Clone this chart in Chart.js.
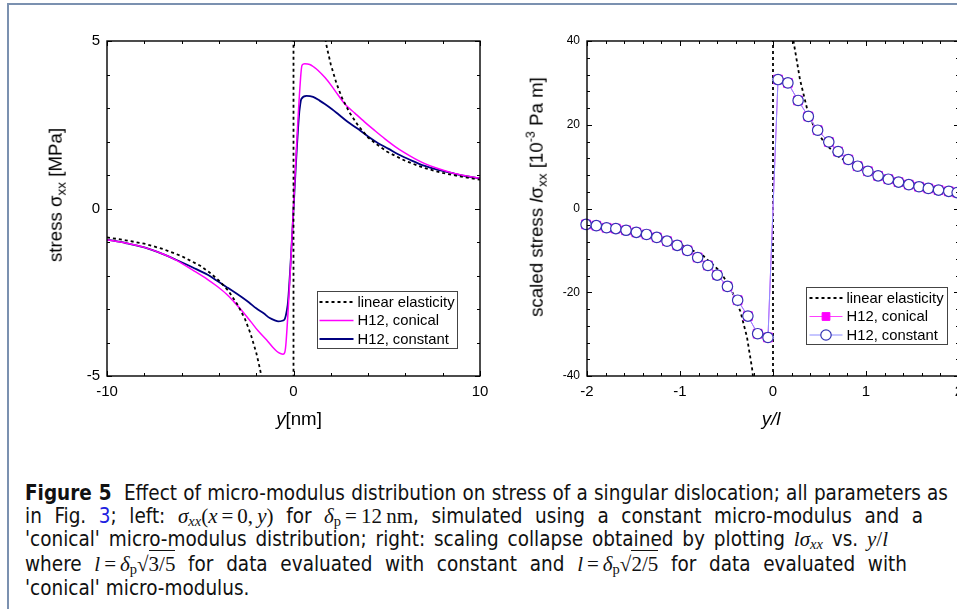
<!DOCTYPE html>
<html>
<head>
<meta charset="utf-8">
<title>Micro-modulus distribution and dislocation stress</title>
<script src="https://cdn.jsdelivr.net/npm/chart.js@4.4.1/dist/chart.umd.min.js"></script>
<style>
  html, body { margin: 0; padding: 0; background: #fff; overflow: hidden; }
  #page { position: relative; width: 957px; height: 609px; overflow: hidden; background: #fff; }
  .rule-top { position: absolute; left: 7px; top: 3px; right: 0; height: 2px; background: #7b91b0; }
  .rule-left { position: absolute; left: 7px; top: 3px; bottom: 0; width: 2px; background: #7b91b0; }
  canvas { position: absolute; top: 0; }
  #leftChart { left: 0; }
  #rightChart { left: 500px; }
  .axt { position: absolute; font-family: "Liberation Sans", Arial, sans-serif; font-size: 18.7px; color: #000;
         white-space: nowrap; line-height: 1; transform: translate(-50%, -50%); }
  .axt.rot { transform: translate(-50%, -50%) rotate(-90deg); }
  .axt sub { font-size: 13.5px; position: relative; top: 4px; vertical-align: baseline; }
  .axt sup { font-size: 12.5px; position: relative; top: -8px; vertical-align: baseline; }
  /* caption lines are set one by one and spread to their own measure */
  .caption { position: absolute; left: 25px; font-family: "DejaVu Sans Condensed", "DejaVu Sans", sans-serif;
             font-stretch: condensed; font-size: 20.5px; color: #111; white-space: nowrap; line-height: 23px;
             text-align: justify; text-align-last: justify; }
  .caption.last { text-align: left; text-align-last: left; }
  .caption b { font-weight: bold; }
  .eq { display: inline-block; font-family: "Liberation Serif", "DejaVu Serif", serif; font-size: 21px; }
  .eq i { font-style: italic; }
  .eq sub { font-size: 14.5px; position: relative; top: 3px; vertical-align: baseline; }
  .eq .op { padding: 0 4px; }
  .rad { border-top: 1px solid #111; padding-top: 1px; }
  .lnk { color: #2020e0; }
</style>
</head>
<body>
<div id="page">
  <div class="rule-top"></div>
  <div class="rule-left"></div>

  <canvas id="leftChart" width="490" height="430"></canvas>
  <canvas id="rightChart" width="470" height="430"></canvas>

  <div class="axt rot" style="left:56px; top:195px;">stress σ<sub>xx</sub> [MPa]</div>
  <div class="axt" style="left:299px; top:419px;"><i>y</i>[nm]</div>
  <div class="axt rot" style="left:537px; top:197px;">scaled stress <i>l</i>σ<sub>xx</sub> [10<sup>-3</sup> Pa m]</div>
  <div class="axt" style="left:771px; top:419px;"><i>y/l</i></div>

  <div class="caption" style="top:482px; width:923px;"><b>Figure 5</b>&nbsp; Effect of micro-modulus distribution on stress of a singular dislocation; all parameters as</div>
  <div class="caption" style="top:505px; width:898px;">in Fig. <span class="lnk">3</span>; left: <span class="eq"><i>σ<sub>xx</sub></i>(<i>x</i><span class="op">=</span>0,&#8201;<i>y</i>)</span> for <span class="eq"><i>δ</i><sub>p</sub><span class="op">=</span>12&#8201;nm</span>, simulated using a constant micro-modulus and a</div>
  <div class="caption" style="top:528px; width:863px;">'conical' micro-modulus distribution; right: scaling collapse obtained by plotting <span class="eq"><i>lσ<sub>xx</sub></i></span> vs. <span class="eq"><i>y</i>/<i>l</i></span></div>
  <div class="caption" style="top:553px; width:882px;">where <span class="eq"><i>l</i><span class="op">=</span><i>δ</i><sub>p</sub>√<span class="rad">3/5</span></span> for data evaluated with constant and <span class="eq"><i>l</i><span class="op">=</span><i>δ</i><sub>p</sub>√<span class="rad">2/5</span></span> for data evaluated with</div>
  <div class="caption last" style="top:577px;">'conical' micro-modulus.</div>
</div>

<script>
// ---- left panel: sigma_xx(x=0, y) against y [nm] ----
const elasticY = [-10, -9, -8, -7, -6, -5, -4.5, -4, -3.5, -3, -2.6, -2.3, -2, -1.8, -1.6, 0, 0, 1.6, 1.8, 2, 2.3, 2.6, 3, 3.5, 4, 4.5, 5, 6, 7, 8, 9, 10];
const elasticS = [-0.86, -0.95, -1.05, -1.21, -1.42, -1.71, -1.91, -2.15, -2.45, -2.87, -3.3, -3.74, -4.3, -4.78, -5.37, -60, 60, 5.37, 4.78, 4.3, 3.74, 3.3, 2.87, 2.45, 2.12, 1.9, 1.7, 1.42, 1.21, 1.06, 0.95, 0.86];

const conicalY = [-10, -9, -8, -7, -6.3, -5.4, -4.6, -4.1, -3.6, -3.2, -2.8, -2.3, -1.9, -1.45, -1.1, -0.9, -0.7, -0.56, -0.47, -0.4, 0.38, 0.46, 0.6, 0.87, 1.1, 1.32, 1.7, 2.04, 2.4, 2.75, 3.3, 3.82, 4.35, 4.9, 5.45, 5.97, 6.5, 7.04, 7.7, 8.47, 9.2, 10];
const conicalS = [-0.93, -1.03, -1.16, -1.36, -1.54, -1.84, -2.12, -2.32, -2.55, -2.78, -3.03, -3.37, -3.65, -3.92, -4.15, -4.26, -4.33, -4.35, -4.3, -4.0, 3.9, 4.28, 4.32, 4.3, 4.22, 4.12, 3.9, 3.66, 3.38, 3.12, 2.84, 2.58, 2.33, 2.08, 1.85, 1.66, 1.49, 1.34, 1.2, 1.07, 0.98, 0.9];

const constantY = [-10, -9, -8, -7, -6.3, -5.4, -4.6, -4.1, -3.6, -2.9, -2.4, -2, -1.6, -1.27, -1, -0.82, -0.6, -0.47, -0.36, -0.29, 0.29, 0.36, 0.42, 0.7, 1.05, 1.4, 1.68, 2.05, 2.39, 2.9, 3.47, 4, 4.54, 5.1, 5.61, 6.3, 7.04, 7.7, 8.47, 9.2, 10];
const constantS = [-0.93, -1.03, -1.16, -1.36, -1.53, -1.76, -1.98, -2.16, -2.34, -2.6, -2.8, -2.98, -3.13, -3.27, -3.34, -3.37, -3.35, -3.3, -3.05, -2.76, 2.75, 3.1, 3.27, 3.36, 3.33, 3.22, 3.12, 2.97, 2.82, 2.59, 2.37, 2.15, 1.95, 1.78, 1.62, 1.44, 1.27, 1.16, 1.06, 0.97, 0.9];

// ---- right panel: l*sigma_xx against y/l ----
const elasticYl = [-2, -1.6, -1.3, -1, -0.75, -0.57, -0.46, -0.35, -0.28, -0.225, -0.2, 0, 0, 0.2, 0.22, 0.29, 0.37, 0.44, 0.55, 0.69, 0.9, 1.1, 1.4, 1.7, 2];
const elasticLS = [-4.3, -5.4, -6.6, -8.5, -11.3, -15.0, -18.8, -24.6, -30.7, -38.2, -43, -100, 100, 43, 40, 30.8, 23.5, 19.5, 15.8, 12.6, 9.7, 7.8, 6.1, 5.1, 4.3];

const scaledYl = [-2.01, -1.9, -1.79, -1.69, -1.58, -1.47, -1.36, -1.25, -1.14, -1.03, -0.92, -0.81, -0.7, -0.6, -0.49, -0.38, -0.27, -0.165, -0.054,
                  0.054, 0.16, 0.27, 0.38, 0.48, 0.6, 0.7, 0.81, 0.91, 1.02, 1.13, 1.24, 1.35, 1.46, 1.57, 1.67, 1.78, 1.89, 1.98];
const constantLS = [-3.8, -4.1, -4.6, -4.8, -5.2, -5.7, -6.2, -6.9, -7.8, -8.8, -10.0, -11.7, -13.6, -15.9, -18.6, -21.9, -25.7, -29.9, -30.8,
                    30.8, 30.0, 25.8, 22.0, 18.7, 15.9, 13.6, 11.7, 10.1, 8.9, 7.8, 7.0, 6.3, 5.7, 5.2, 4.8, 4.4, 4.1, 3.8];
// the conical run collapses onto the constant one
const conicalLS = [-3.8, -4.1, -4.6, -4.8, -5.2, -5.7, -6.2, -6.9, -7.8, -8.8, -10.0, -11.7, -13.6, -15.9, -18.6, -21.9, -25.7, -29.9, -30.8,
                   30.8, 30.0, 25.8, 22.0, 18.7, 15.9, 13.6, 11.7, 10.1, 8.9, 7.8, 7.0, 6.3, 5.7, 5.2, 4.8, 4.4, 4.1, 3.8];

const seriesLabels = ['linear elasticity', 'H12, conical', 'H12, constant'];

const pts = (xs, ys) => xs.map((x, i) => ({ x: x, y: ys[i] }));

// closed frame with inward major/minor ticks on all four sides
const frameTicks = {
  id: 'frameTicks',
  afterDatasetsDraw(chart, args, o) {
    const { ctx, chartArea: a, scales: { x, y } } = chart;
    ctx.save();
    ctx.strokeStyle = '#000';
    ctx.lineWidth = 1;
    const ticks = (scale, step, len) => {
      const n = Math.round((scale.max - scale.min) / step);
      for (let i = 0; i <= n; i++) {
        const p = Math.round(scale.getPixelForValue(scale.min + i * step)) + 0.5;
        ctx.beginPath();
        if (scale.isHorizontal()) {
          ctx.moveTo(p, a.bottom); ctx.lineTo(p, a.bottom - len);
          ctx.moveTo(p, a.top); ctx.lineTo(p, a.top + len);
        } else {
          ctx.moveTo(a.left, p); ctx.lineTo(a.left + len, p);
          ctx.moveTo(a.right, p); ctx.lineTo(a.right - len, p);
        }
        ctx.stroke();
      }
    };
    ticks(x, o.minorX, 3);
    ticks(x, o.majorX, 5);
    ticks(y, o.minorY, 3);
    ticks(y, o.majorY, 5);
    ctx.lineWidth = 1.4;
    ctx.strokeRect(a.left, a.top, a.right - a.left, a.bottom - a.top);
    ctx.restore();
  }
};

// boxed legend sitting in the lower right of the plot area
const boxLegend = {
  id: 'boxLegend',
  afterDraw(chart, args, o) {
    const { ctx, chartArea: a } = chart;
    const x0 = Math.round(a.right - o.right - o.width) + 0.5;
    const y0 = Math.round(a.bottom - o.bottom - o.height) + 0.5;
    ctx.save();
    ctx.fillStyle = '#fff';
    ctx.fillRect(x0, y0, o.width, o.height);
    ctx.strokeStyle = '#444';
    ctx.lineWidth = 1;
    ctx.strokeRect(x0, y0, o.width, o.height);
    ctx.font = '14.8px "Liberation Sans", Arial, sans-serif';
    ctx.textBaseline = 'middle';
    chart.data.datasets.forEach((ds, i) => {
      const yy = y0 + o.rowTop + i * o.rowGap;
      ctx.strokeStyle = ds.borderColor;
      ctx.lineWidth = ds.borderWidth;
      ctx.setLineDash(ds.borderDash || []);
      ctx.beginPath();
      ctx.moveTo(x0 + o.lineFrom, yy);
      ctx.lineTo(x0 + o.lineTo, yy);
      ctx.stroke();
      ctx.setLineDash([]);
      if (ds.pointRadius > 0) {
        ctx.fillStyle = ds.pointBackgroundColor;
        ctx.strokeStyle = ds.pointBorderColor;
        ctx.lineWidth = ds.pointBorderWidth;
        Chart.helpers.drawPoint(ctx, { pointStyle: ds.pointStyle, radius: ds.legendRadius, borderWidth: ds.pointBorderWidth, rotation: 0 },
          x0 + (o.lineFrom + o.lineTo) / 2, yy);
      }
      ctx.fillStyle = '#000';
      ctx.fillText(ds.label, x0 + o.textX, yy + 0.5);
    });
    ctx.restore();
  }
};

const axisFont = { family: '"Liberation Sans", Arial, sans-serif', size: 15 };

function panelOptions(cfg) {
  return {
    responsive: false,
    animation: false,
    devicePixelRatio: 1,
    layout: { padding: cfg.padding },
    plugins: {
      legend: { display: false },
      tooltip: { enabled: false },
      frameTicks: cfg.ticks,
      boxLegend: cfg.legend
    },
    scales: {
      x: {
        type: 'linear', min: cfg.xMin, max: cfg.xMax,
        grid: { display: false, drawTicks: false },
        border: { display: false },
        ticks: { stepSize: cfg.ticks.majorX, color: '#000', font: axisFont, padding: 7, maxRotation: 0 },
        afterFit: s => { s.height = 30; s.paddingLeft = 0; s.paddingRight = 0; }
      },
      y: {
        type: 'linear', min: cfg.yMin, max: cfg.yMax,
        grid: { display: false, drawTicks: false },
        border: { display: false },
        ticks: { stepSize: cfg.ticks.majorY, color: '#000', font: cfg.yFont, padding: 7 },
        afterFit: s => { s.width = 40; s.paddingTop = 0; s.paddingBottom = 0; }
      }
    }
  };
}

new Chart(document.getElementById('leftChart'), {
  type: 'scatter',
  data: {
    datasets: [
      { label: seriesLabels[0], data: pts(elasticY, elasticS), showLine: true, borderColor: '#000', borderWidth: 1.8,
        borderDash: [3, 3], pointRadius: 0 },
      { label: seriesLabels[1], data: pts(conicalY, conicalS), showLine: true, borderColor: '#ff00ff', borderWidth: 1.5,
        cubicInterpolationMode: 'monotone', pointRadius: 0 },
      { label: seriesLabels[2], data: pts(constantY, constantS), showLine: true, borderColor: '#000080', borderWidth: 1.8,
        cubicInterpolationMode: 'monotone', pointRadius: 0 }
    ]
  },
  options: panelOptions({
    padding: { left: 67, top: 41, right: 10, bottom: 24 },
    xMin: -10, xMax: 10, yMin: -5, yMax: 5,
    yFont: axisFont,
    ticks: { majorX: 10, minorX: 2, majorY: 5, minorY: 1 },
    legend: { width: 140, height: 57, right: 23, bottom: 28, rowTop: 10.5, rowGap: 18.5, lineFrom: 2, lineTo: 36, textX: 40 }
  }),
  plugins: [frameTicks, boxLegend]
});

new Chart(document.getElementById('rightChart'), {
  type: 'scatter',
  data: {
    datasets: [
      { label: seriesLabels[0], data: pts(elasticYl, elasticLS), showLine: true, borderColor: '#000', borderWidth: 1.8,
        borderDash: [3, 3], pointRadius: 0, order: 3 },
      { label: seriesLabels[1], data: pts(scaledYl, conicalLS), showLine: true, borderColor: '#ff40ff', borderWidth: 1,
        pointStyle: 'rect', pointRadius: 6.2, legendRadius: 5.5, pointBackgroundColor: '#ff00ff', pointBorderColor: '#ff00ff',
        pointBorderWidth: 1, clip: false, order: 2 },
      { label: seriesLabels[2], data: pts(scaledYl, constantLS), showLine: true, borderColor: '#8c8cff', borderWidth: 1,
        pointStyle: 'circle', pointRadius: 5.2, legendRadius: 5.2, pointBackgroundColor: '#fff', pointBorderColor: '#3434b4',
        pointBorderWidth: 1.2, clip: false, order: 1 }
    ]
  },
  options: panelOptions({
    padding: { left: 47, top: 41, right: 11, bottom: 24 },
    xMin: -2, xMax: 2, yMin: -40, yMax: 40,
    yFont: { family: axisFont.family, size: 12 },
    ticks: { majorX: 1, minorX: 0.2, majorY: 20, minorY: 4 },
    legend: { width: 141, height: 57, right: 12, bottom: 32, rowTop: 10.5, rowGap: 18.5, lineFrom: 3, lineTo: 36, textX: 40 }
  }),
  plugins: [frameTicks, boxLegend]
});
</script>
</body>
</html>
